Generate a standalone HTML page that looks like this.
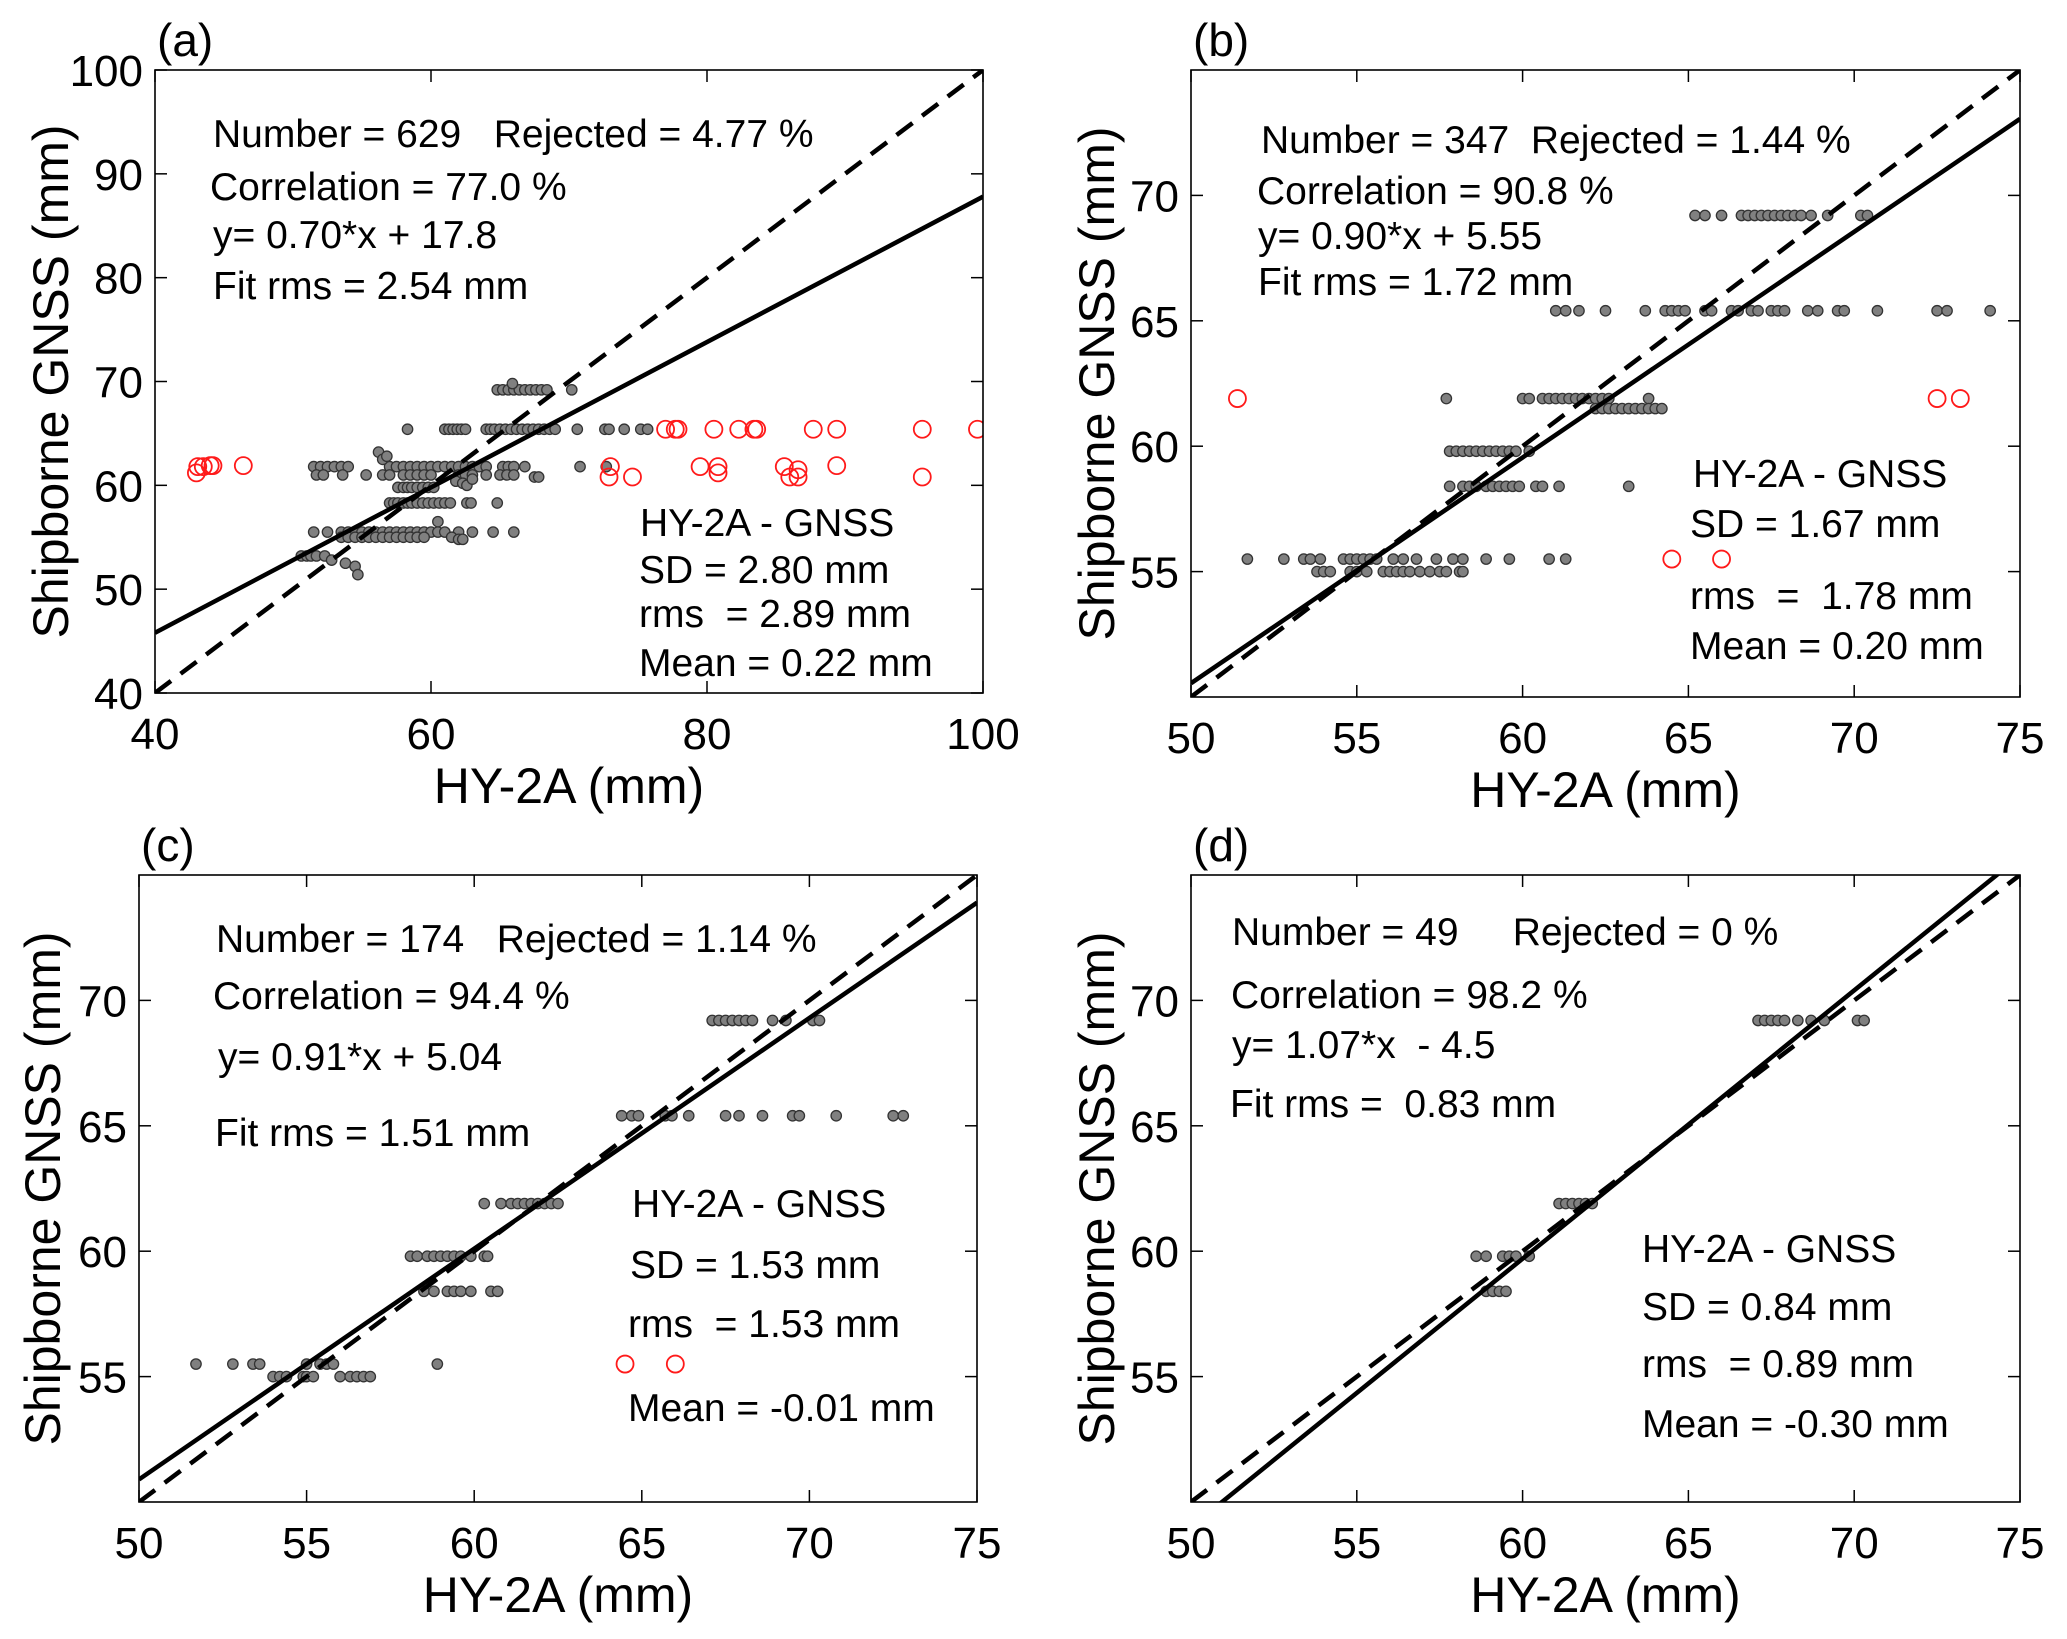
<!DOCTYPE html>
<html><head><meta charset="utf-8"><style>
html,body{margin:0;padding:0;background:#fff}
svg{display:block}
text{font-family:"Liberation Sans",Arial,sans-serif;fill:#000}
.ann{white-space:pre}
</style></head><body>
<svg id="fig" width="2067" height="1639" viewBox="0 0 2067 1639" xmlns="http://www.w3.org/2000/svg"></svg>
<script>
// ---- Panel (a) data ----
const aGrayX = [64.8,65.2,65.6,66,66.4,66.8,67.2,67.6,68,68.4,70.2,65.9,
 58.3,61,61.3,61.6,61.9,62.2,62.5,64,64.3,64.6,65,65.4,65.8,66.2,66.6,67,67.4,67.8,68.2,68.6,69,70.6,72.6,72.9,74,75.2,75.7,
 51.5,52,52.5,53,53.5,54,57,57.5,58,58.5,59,59.5,60,60.5,61,61.5,62,62.5,63,63.5,64,65.2,65.6,66,66.8,70.8,72.7,
 51.7,52.2,53.6,55.3,56.5,57,58,58.5,59,59.5,60,62,62.5,63,64,65,65.5,66,67.5,67.8,
 61.8,62.3,62.6,63,
 57.6,58,58.3,58.6,59,59.4,59.8,60.2,
 57,57.3,57.6,58,58.3,58.6,59,59.4,59.8,60.2,60.6,61,61.4,62.6,62.9,64.8,
 51.5,52.5,53.5,54,54.5,55,55.5,56,56.5,57,57.5,58,58.5,59,59.5,60,60.5,61,62,63,64.5,66,
 53.5,54,54.5,55,55.5,56,56.5,57,57.5,58,58.5,59,59.5,61.5,
 50.6,51,51.3,51.7,52.3,
 52.8,53.8,54.5,54.7,56.2,56.5,56.8,60.5,62,62.3];
const aGrayY = [69.2,69.2,69.2,69.2,69.2,69.2,69.2,69.2,69.2,69.2,69.2,69.8,
 65.4,65.4,65.4,65.4,65.4,65.4,65.4,65.4,65.4,65.4,65.4,65.4,65.4,65.4,65.4,65.4,65.4,65.4,65.4,65.4,65.4,65.4,65.4,65.4,65.4,65.4,65.4,
 61.8,61.8,61.8,61.8,61.8,61.8,61.8,61.8,61.8,61.8,61.8,61.8,61.8,61.8,61.8,61.8,61.8,61.8,61.8,61.8,61.8,61.8,61.8,61.8,61.8,61.8,61.8,
 61.0,61.0,61.0,61.0,61.0,61.0,61.0,61.0,61.0,61.0,61.0,61.0,61.0,61.0,61.0,61.0,61.0,61.0,60.8,60.8,
 60.4,60.2,60.0,60.6,
 59.8,59.8,59.8,59.8,59.8,59.8,59.8,59.8,
 58.3,58.3,58.3,58.3,58.3,58.3,58.3,58.3,58.3,58.3,58.3,58.3,58.3,58.3,58.3,58.3,
 55.5,55.5,55.5,55.5,55.5,55.5,55.5,55.5,55.5,55.5,55.5,55.5,55.5,55.5,55.5,55.5,55.5,55.5,55.5,55.5,55.5,55.5,
 55.0,55.0,55.0,55.0,55.0,55.0,55.0,55.0,55.0,55.0,55.0,55.0,55.0,55.0,
 53.2,53.2,53.2,53.2,53.2,
 52.8,52.5,52.2,51.4,63.2,62.5,62.8,56.5,54.8,54.8];
const aRedX = [77,77.7,77.9,80.5,82.3,83.4,83.6,87.7,89.4,95.6,99.6,
 43.1,43.5,44,44.2,46.4,73,79.5,80.8,85.6,86.6,89.4,
 43,72.9,74.6,80.8,86,86.6,95.6];
const aRedY = [65.4,65.4,65.4,65.4,65.4,65.4,65.4,65.4,65.4,65.4,65.4,
 61.8,61.8,61.9,61.9,61.9,61.8,61.8,61.8,61.8,61.5,61.9,
 61.2,60.8,60.8,61.2,60.8,60.8,60.8];
const aFit = [0.70, 17.8];
const aXTicks = [40,60,80,100];
const aYTicks = [40,50,60,70,80,90,100];

// ---- Panel (b) data ----
const bGrayX = [65.2,65.5,66,66.6,66.8,67,67.2,67.4,67.6,67.8,68,68.2,68.4,68.7,69.2,70.2,70.4,
 61.0,61.3,61.7,62.5,63.7,64.3,64.5,64.7,64.9,65.5,65.7,66.3,66.5,66.9,67.1,67.5,67.7,67.9,68.6,68.9,69.5,69.7,70.7,72.5,72.8,74.1,
 57.7,60,60.2,60.6,60.8,61,61.2,61.4,61.6,61.8,62,62.2,62.4,62.6,63.8,
 62.2,62.4,62.6,62.8,63,63.2,63.4,63.6,63.8,64,64.2,
 57.8,58,58.2,58.4,58.6,58.8,59,59.2,59.4,59.6,59.8,60.2,
 57.8,58.2,58.4,58.6,58.9,59.1,59.3,59.5,59.7,59.9,60.4,60.6,61.1,63.2,
 51.7,52.8,53.4,53.6,53.9,54.6,54.8,55,55.2,55.4,55.6,56.1,56.4,56.8,57.4,57.9,58.2,58.9,59.6,60.8,61.3,
 53.8,54,54.2,54.8,55,55.3,55.8,56,56.2,56.4,56.6,56.9,57.2,57.5,57.7,58.1,58.2];
const bGrayY = [69.2,69.2,69.2,69.2,69.2,69.2,69.2,69.2,69.2,69.2,69.2,69.2,69.2,69.2,69.2,69.2,69.2,
 65.4,65.4,65.4,65.4,65.4,65.4,65.4,65.4,65.4,65.4,65.4,65.4,65.4,65.4,65.4,65.4,65.4,65.4,65.4,65.4,65.4,65.4,65.4,65.4,65.4,65.4,
 61.9,61.9,61.9,61.9,61.9,61.9,61.9,61.9,61.9,61.9,61.9,61.9,61.9,61.9,61.9,
 61.5,61.5,61.5,61.5,61.5,61.5,61.5,61.5,61.5,61.5,61.5,
 59.8,59.8,59.8,59.8,59.8,59.8,59.8,59.8,59.8,59.8,59.8,59.8,
 58.4,58.4,58.4,58.4,58.4,58.4,58.4,58.4,58.4,58.4,58.4,58.4,58.4,58.4,
 55.5,55.5,55.5,55.5,55.5,55.5,55.5,55.5,55.5,55.5,55.5,55.5,55.5,55.5,55.5,55.5,55.5,55.5,55.5,55.5,55.5,
 55.0,55.0,55.0,55.0,55.0,55.0,55.0,55.0,55.0,55.0,55.0,55.0,55.0,55.0,55.0,55.0,55.0];
const bRedX = [51.4,72.5,73.2,64.5,66];
const bRedY = [61.9,61.9,61.9,55.5,55.5];
const bFit = [0.90, 5.55];

// ---- Panel (c) data ----
const cGrayX = [67.1,67.3,67.5,67.7,67.9,68.1,68.3,68.9,69.3,70.1,70.3,
 64.4,64.7,64.9,65.7,65.9,66.4,67.5,67.9,68.6,69.5,69.7,70.8,72.5,72.8,
 60.3,60.8,61.1,61.3,61.5,61.7,61.9,62.1,62.3,62.5,
 58.1,58.3,58.6,58.8,59,59.2,59.4,59.6,59.9,60.3,60.4,
 58.5,58.8,59.2,59.4,59.6,59.9,60.5,60.7,
 51.7,52.8,53.4,53.6,55,55.4,55.6,55.8,58.9,
 54,54.2,54.4,54.9,55,55.2,56,56.3,56.5,56.7,56.9];
const cGrayY = [69.2,69.2,69.2,69.2,69.2,69.2,69.2,69.2,69.2,69.2,69.2,
 65.4,65.4,65.4,65.4,65.4,65.4,65.4,65.4,65.4,65.4,65.4,65.4,65.4,65.4,
 61.9,61.9,61.9,61.9,61.9,61.9,61.9,61.9,61.9,61.9,
 59.8,59.8,59.8,59.8,59.8,59.8,59.8,59.8,59.8,59.8,59.8,
 58.4,58.4,58.4,58.4,58.4,58.4,58.4,58.4,
 55.5,55.5,55.5,55.5,55.5,55.5,55.5,55.5,55.5,
 55.0,55.0,55.0,55.0,55.0,55.0,55.0,55.0,55.0,55.0,55.0];
const cRedX = [64.5,66];
const cRedY = [55.5,55.5];
const cFit = [0.92, 4.9];

// ---- Panel (d) data ----
const dGrayX = [67.1,67.3,67.5,67.7,67.9,68.3,68.7,69.1,70.1,70.3,
 61.1,61.3,61.5,61.7,61.9,62.1,
 58.6,58.9,59.4,59.6,59.8,60.2,
 58.9,59.1,59.3,59.5];
const dGrayY = [69.2,69.2,69.2,69.2,69.2,69.2,69.2,69.2,69.2,69.2,
 61.9,61.9,61.9,61.9,61.9,61.9,
 59.8,59.8,59.8,59.8,59.8,59.8,
 58.4,58.4,58.4,58.4];
const dRedX = [];
const dRedY = [];
const dFit = [1.07, -4.5];

const bcdXTicks = [50,55,60,65,70,75];
const bcdYTicks = [55,60,65,70];

const NS = "http://www.w3.org/2000/svg";
const svg = document.getElementById("fig");
function mk(tag, attrs, parent){ const e=document.createElementNS(NS,tag); for(const k in attrs) e.setAttribute(k,attrs[k]); (parent||svg).appendChild(e); return e; }

function panel(p){
  const g = mk("g",{});
  
  
  const sx = v => p.L + (v - p.x0)/(p.x1 - p.x0)*(p.R - p.L);
  const sy = v => p.B - (v - p.y0)/(p.y1 - p.y0)*(p.B - p.T);
  const cid = "clip-" + p.id;
  const cp = mk("clipPath",{id:cid}, g);
  mk("rect",{x:p.L,y:p.T,width:p.R-p.L,height:p.B-p.T}, cp);
  p.xt.forEach(v=>{
    const x=sx(v);
    const t1=mk("line",{x1:x,y1:p.B,x2:x,y2:p.B-12,stroke:"#000","stroke-width":1.5},g);
    
    
    mk("line",{x1:x,y1:p.T,x2:x,y2:p.T+12,stroke:"#000","stroke-width":1.5},g);
    const tl=mk("text",{x:x,y:p.B+56,"font-size":44,"text-anchor":"middle"},g);
    tl.textContent=v;
    
    
  });
  p.yt.forEach(v=>{
    const y=sy(v);
    const t1=mk("line",{x1:p.L,y1:y,x2:p.L+12,y2:y,stroke:"#000","stroke-width":1.5},g);
    
    
    mk("line",{x1:p.R,y1:y,x2:p.R-12,y2:y,stroke:"#000","stroke-width":1.5},g);
    const tl=mk("text",{x:p.L-12,y:y+16,"font-size":44,"text-anchor":"end"},g);
    tl.textContent=v;
    
    
  });
  const pg = mk("g",{"clip-path":"url(#"+cid+")"},g);
  p.gx.forEach((v,i)=>{
    const c=mk("circle",{cx:sx(v),cy:sy(p.gy[i]),r:5.2,fill:"#808080",stroke:"#333","stroke-width":1.3},pg);
    
    
  });
  p.rx.forEach((v,i)=>{
    const c=mk("circle",{cx:sx(v),cy:sy(p.ry[i]),r:8.5,fill:"none",stroke:"#ff1a1a","stroke-width":1.8},pg);
    
    
  });
  const dl=mk("line",{x1:sx(p.x0),y1:sy(p.x0),x2:sx(p.x1),y2:sy(p.x1),stroke:"#000","stroke-width":4.5,"stroke-dasharray":"20 12"},pg);
  
  
  const fl=mk("line",{x1:sx(p.x0),y1:sy(p.fit[0]*p.x0+p.fit[1]),x2:sx(p.x1),y2:sy(p.fit[0]*p.x1+p.fit[1]),stroke:"#000","stroke-width":4.5},pg);
  
  
  const fr=mk("rect",{x:p.L,y:p.T,width:p.R-p.L,height:p.B-p.T,fill:"none",stroke:"#000","stroke-width":1.6},g);
  
  
  const pl=mk("text",{x:p.L+2,y:p.T-14,"font-size":46},g);
  pl.textContent="("+p.id+")";
  
  
  const xt=mk("text",{x:(p.L+p.R)/2,y:p.B+110,"font-size":50,"text-anchor":"middle"},g);
  xt.textContent="HY-2A (mm)";
  
  
  const yc=(p.T+p.B)/2;
  const yt=mk("text",{x:p.yTitleX,y:yc,"font-size":50,"text-anchor":"middle",transform:"rotate(-90 "+p.yTitleX+" "+yc+")"},g);
  yt.textContent="Shipborne GNSS (mm)";
  
  
  p.ann.forEach(a=>{
    const t=mk("text",{x:a[0],y:a[1],"font-size":39,"class":"ann"},g);
    t.textContent=a[2];
    
    
  });
}

panel({id:"a",L:155,R:983,T:70,B:693,x0:40,x1:100,y0:40,y1:100,xt:aXTicks,yt:aYTicks,
  gx:aGrayX,gy:aGrayY,rx:aRedX,ry:aRedY,fit:aFit,yTitleX:68,
  ann:[[213,147,"Number = 629   Rejected = 4.77 %"],[210,200,"Correlation = 77.0 %"],[213,248,"y= 0.70*x + 17.8"],[213,299,"Fit rms = 2.54 mm"],
       [640,536,"HY-2A - GNSS"],[639,583,"SD = 2.80 mm"],[639,627,"rms  = 2.89 mm"],[639,676,"Mean = 0.22 mm"]]});
panel({id:"b",L:1191,R:2020,T:70,B:697,x0:50,x1:75,y0:50,y1:75,xt:bcdXTicks,yt:bcdYTicks,
  gx:bGrayX,gy:bGrayY,rx:bRedX,ry:bRedY,fit:bFit,yTitleX:1114,
  ann:[[1261,153,"Number = 347  Rejected = 1.44 %"],[1257,204,"Correlation = 90.8 %"],[1258,249,"y= 0.90*x + 5.55"],[1258,295,"Fit rms = 1.72 mm"],
       [1693,487,"HY-2A - GNSS"],[1690,537,"SD = 1.67 mm"],[1690,609,"rms  =  1.78 mm"],[1690,659,"Mean = 0.20 mm"]]});
panel({id:"c",L:139,R:977,T:875,B:1502,x0:50,x1:75,y0:50,y1:75,xt:bcdXTicks,yt:bcdYTicks,
  gx:cGrayX,gy:cGrayY,rx:cRedX,ry:cRedY,fit:cFit,yTitleX:60,
  ann:[[216,952,"Number = 174   Rejected = 1.14 %"],[213,1009,"Correlation = 94.4 %"],[218,1070,"y= 0.91*x + 5.04"],[215,1146,"Fit rms = 1.51 mm"],
       [632,1217,"HY-2A - GNSS"],[630,1278,"SD = 1.53 mm"],[628,1337,"rms  = 1.53 mm"],[628,1421,"Mean = -0.01 mm"]]});
panel({id:"d",L:1191,R:2020,T:875,B:1502,x0:50,x1:75,y0:50,y1:75,xt:bcdXTicks,yt:bcdYTicks,
  gx:dGrayX,gy:dGrayY,rx:dRedX,ry:dRedY,fit:dFit,yTitleX:1114,
  ann:[[1232,945,"Number = 49     Rejected = 0 %"],[1231,1008,"Correlation = 98.2 %"],[1232,1058,"y= 1.07*x  - 4.5"],[1230,1117,"Fit rms =  0.83 mm"],
       [1642,1262,"HY-2A - GNSS"],[1642,1320,"SD = 0.84 mm"],[1642,1377,"rms  = 0.89 mm"],[1642,1437,"Mean = -0.30 mm"]]});
</script>
</body></html>
